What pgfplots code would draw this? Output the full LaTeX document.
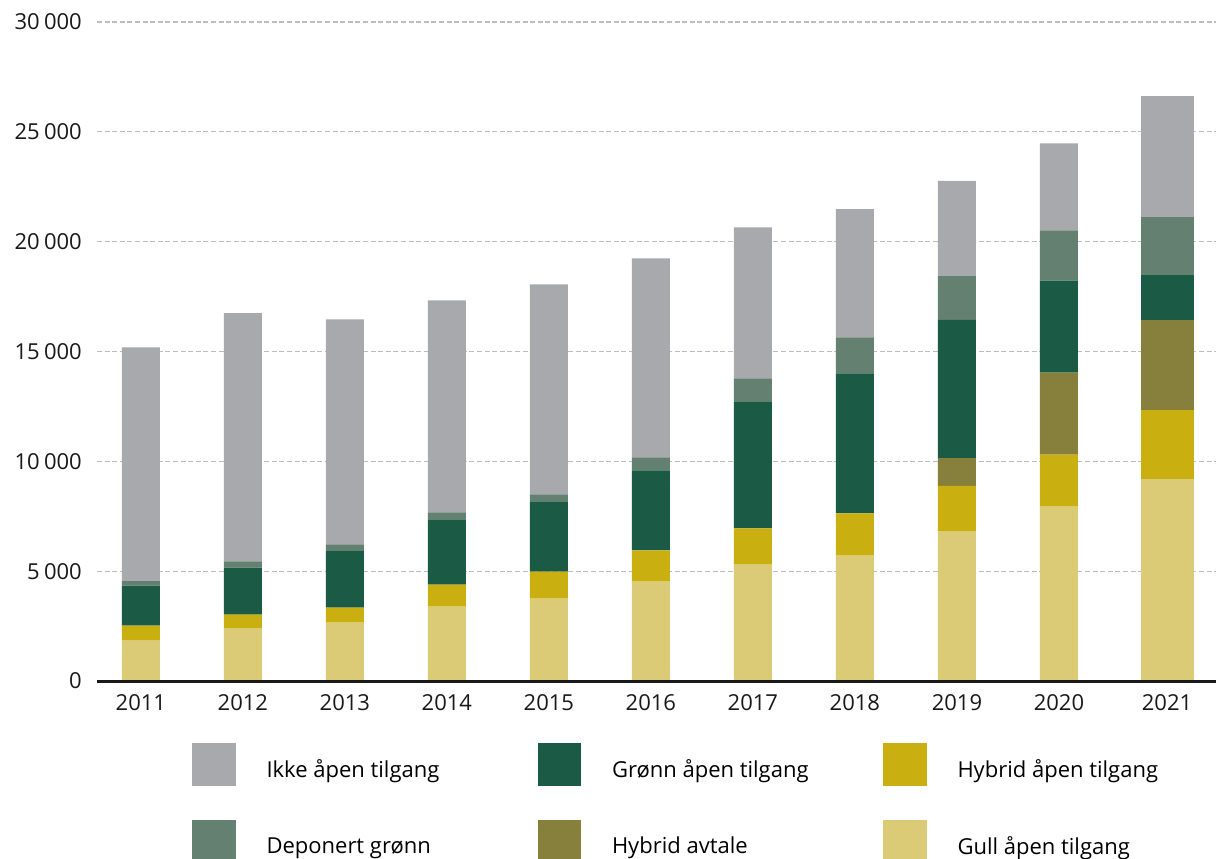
\documentclass[border=0pt]{standalone}
\usepackage{pgfplots}
\pgfplotsset{compat=1.18}
\usepackage{pgfplotstable}
\usepackage{fontspec}
\setmainfont{Open Sans}
\definecolor{cIkke}{HTML}{A8A9AD}
\definecolor{cGronn}{HTML}{1B5B45}
\definecolor{cHybrid}{HTML}{C9B010}
\definecolor{cDep}{HTML}{648071}
\definecolor{cAvtale}{HTML}{87803C}
\definecolor{cGull}{HTML}{DBCA76}
\definecolor{cGrid}{HTML}{BDBDBD}

\pgfplotstableread{
x gull hybrid avtale gronn dep ikke
0 1841 683 0 1822 228 10616
1 2387 638 0 2141 274 11307
2 2660 684 0 2597 273 10251
3 3390 1002 0 2961 319 9658
4 3754 1230 0 3189 319 9567
5 4524 1417 0 3644 593 9066
6 5303 1640 0 5786 1048 6879
7 5713 1913 0 6379 1640 5831
8 6802 2085 1255 6292 2025 4313
9 7933 2368 3742 4183 2283 3965
}\datamain

\pgfplotstableread{
x gull hybrid avtale gronn dep ikke
10.06 9205 3153 4076 2029 2671 5491
}\datalast

\pgfplotsset{
  common/.style={
    at={(0pt,0pt)}, anchor=south west,
    scale only axis, width=1119pt, height=659pt,
    xmin=-0.43, xmax=10.54, ymin=0, ymax=30000,
  },
}

\begin{document}
\fontsize{22pt}{26pt}\selectfont
\begin{tikzpicture}
\useasboundingbox (-97pt,-178pt) rectangle (1119pt,681pt);
% main axis: grid, labels, bars 2011-2020
\begin{axis}[
  common,
  axis line style={draw=none},
  major tick length=0pt,
  ymajorgrids,
  grid style={cGrid, line width=1.2pt, dash pattern=on 5pt off 2.6pt},
  xtick={0,1,2,3,4,5,6,7,8,9,10.06},
  xticklabels={2011,2012,2013,2014,2015,2016,2017,2018,2019,2020,2021},
  ytick={0,5000,10000,15000,20000,25000,30000},
  scaled y ticks=false,
  /pgf/number format/assume math mode=true,
  /pgf/number format/1000 sep={\hspace{0.2em}},
  tick label style={font=\fontsize{22pt}{26pt}\selectfont, text=black!90},
  yticklabel style={anchor=east, xshift=-15pt, inner sep=0pt},
  xticklabel style={anchor=north, yshift=-13pt, inner sep=0pt},
  ybar stacked, bar width=0.3725,
]
\addplot[fill=cGull, draw=none] table[x=x, y=gull] {\datamain};
\addplot[fill=cHybrid, draw=none] table[x=x, y=hybrid] {\datamain};
\addplot[fill=cAvtale, draw=none] table[x=x, y=avtale] {\datamain};
\addplot[fill=cGronn, draw=none] table[x=x, y=gronn] {\datamain};
\addplot[fill=cDep, draw=none] table[x=x, y=dep] {\datamain};
\addplot[fill=cIkke, draw=none] table[x=x, y=ikke] {\datamain};
\end{axis}
% wider 2021 bar
\begin{axis}[
  common, hide axis,
  ybar stacked, bar width=0.52,
]
\addplot[fill=cGull, draw=none] table[x=x, y=gull] {\datalast};
\addplot[fill=cHybrid, draw=none] table[x=x, y=hybrid] {\datalast};
\addplot[fill=cAvtale, draw=none] table[x=x, y=avtale] {\datalast};
\addplot[fill=cGronn, draw=none] table[x=x, y=gronn] {\datalast};
\addplot[fill=cDep, draw=none] table[x=x, y=dep] {\datalast};
\addplot[fill=cIkke, draw=none] table[x=x, y=ikke] {\datalast};
\end{axis}
% baseline and legend
\begin{axis}[
  common, hide axis, clip=false,
  legend image code/.code={\fill[#1, draw=none] (0pt,-16.7pt) rectangle (43.5pt,26.7pt);},
  legend columns=3,
  legend style={
    at={(axis description cs:0.0849,-0.0941)}, anchor=north west,
    draw=none, fill=none, inner sep=0pt, outer sep=0pt,
    font=\fontsize{22pt}{26pt}\selectfont,
    nodes={inner sep=0pt},
    row sep=34pt,
    /tikz/every odd column/.append style={column sep=31pt},
    /tikz/every even column/.append style={column sep=0pt},
  },
  legend cell align=left,
]
\addplot[forget plot, draw=black!90, line width=3pt] coordinates {(-0.43,-25) (10.54,-25)};
\addlegendimage{fill=cIkke}
\addlegendentry{\makebox[271pt][l]{Ikke åpen tilgang}}
\addlegendimage{fill=cGronn}
\addlegendentry{\makebox[271pt][l]{Grønn åpen tilgang}}
\addlegendimage{fill=cHybrid}
\addlegendentry{\makebox[271pt][l]{Hybrid åpen tilgang}}
\addlegendimage{fill=cDep}
\addlegendentry{\makebox[271pt][l]{Deponert grønn}}
\addlegendimage{fill=cAvtale}
\addlegendentry{\makebox[271pt][l]{Hybrid avtale}}
\addlegendimage{fill=cGull}
\addlegendentry{\makebox[271pt][l]{Gull åpen tilgang}}
\end{axis}
\end{tikzpicture}
\end{document}
